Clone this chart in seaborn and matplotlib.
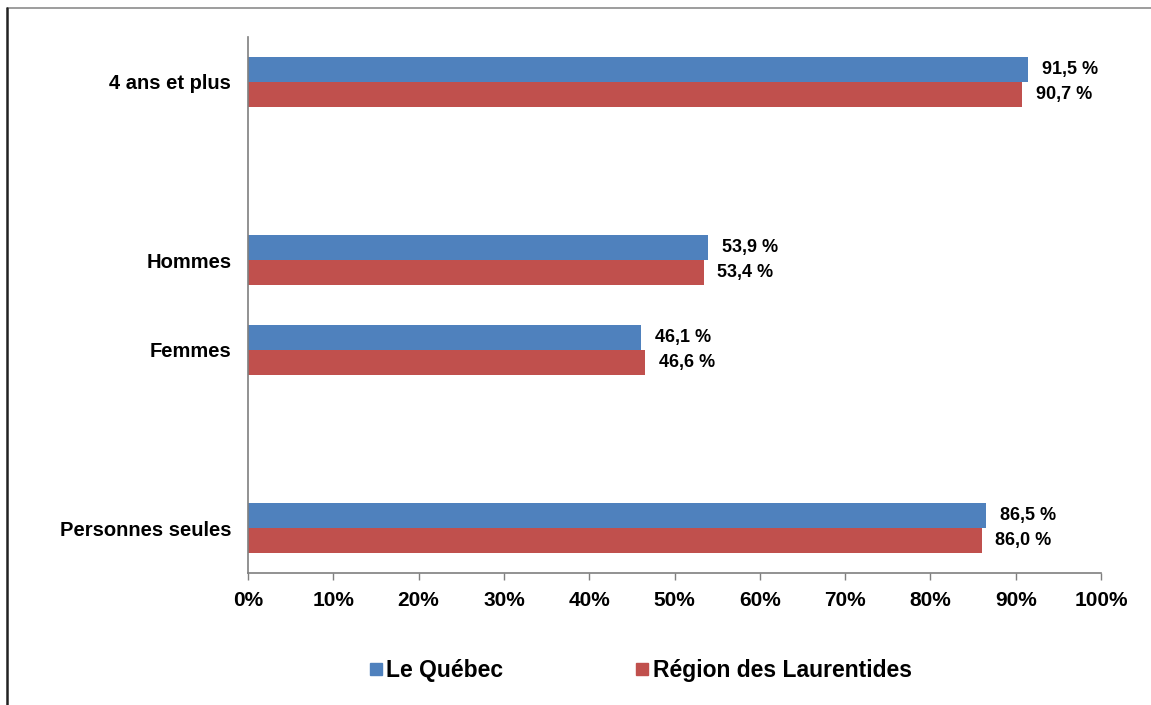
import matplotlib
matplotlib.use("Agg")
import matplotlib.pyplot as plt
from matplotlib.lines import Line2D
import seaborn as sns
import pandas as pd

# Categories (blank slots separate the groups on the axis)
categories = ["4 ans et plus", " ", "Hommes", "Femmes", "  ", "Personnes seules"]
series_names = ["Le Québec", "Région des Laurentides"]
quebec = [91.5, None, 53.9, 46.1, None, 86.5]
laurentides = [90.7, None, 53.4, 46.6, None, 86.0]
x_ticks = [0, 10, 20, 30, 40, 50, 60, 70, 80, 90, 100]

rows = []
for cat, q, l in zip(categories, quebec, laurentides):
    if q is not None:
        rows.append({"cat": cat, "serie": series_names[0], "val": q})
        rows.append({"cat": cat, "serie": series_names[1], "val": l})
df = pd.DataFrame(rows)

sns.set_theme(style="white")
plt.rcParams["font.family"] = ["Liberation Sans", "DejaVu Sans"]
plt.rcParams["font.weight"] = "bold"

colors = ["#4F81BD", "#C0504D"]

fig = plt.figure(figsize=(11.51, 7.05), dpi=100)
ax = fig.add_axes([248 / 1151, 1 - 573 / 705, (1101 - 248) / 1151, (573 - 37) / 705])

sns.barplot(data=df, y="cat", x="val", hue="serie", order=categories,
            hue_order=series_names, palette=colors, orient="h",
            width=0.56, saturation=1, linewidth=0, ax=ax, legend=False)

ax.set_xlim(0, 100)
ax.set_ylim(len(categories) - 0.5, -0.5)
ax.set_xticks(x_ticks)
ax.set_xticklabels([f"{t}%" for t in x_ticks], fontsize=15, fontweight="bold")
ax.set_yticks(range(len(categories)))
ax.set_yticklabels([c.strip() for c in categories], fontsize=14.5, fontweight="bold")
ax.set_xlabel("")
ax.set_ylabel("")
ax.tick_params(axis="x", direction="out", length=5, width=1, color="#7F7F7F",
               bottom=True, pad=8, labelcolor="black")
ax.tick_params(axis="y", length=0, pad=12, labelcolor="black")
for side in ["top", "right"]:
    ax.spines[side].set_visible(False)
for side in ["left", "bottom"]:
    ax.spines[side].set_color("#7F7F7F")
    ax.spines[side].set_linewidth(1.2)

# Value labels in French number format
for container, vals in zip(ax.containers, [quebec, laurentides]):
    labs = [f"{v:.1f} %".replace(".", ",") for v in vals if v is not None]
    ax.bar_label(container, labels=labs, padding=10, fontsize=13,
                 fontweight="bold", color="black")

# Legend
handles = [Line2D([0], [0], marker="s", linestyle="none", markersize=9,
                  markerfacecolor=c, markeredgecolor=c) for c in colors]
fig.legend(handles, series_names, loc="center",
           bbox_to_anchor=(641 / 1151, 1 - 671 / 705), ncol=2, frameon=False,
           prop={"size": 16.5, "weight": "bold"}, labelcolor="black",
           handlelength=0.5, handletextpad=0.2, columnspacing=5.8)

# Outer frame lines
fig.add_artist(Line2D([7 / 1151, 1], [1 - 8 / 705, 1 - 8 / 705],
                      transform=fig.transFigure, color="#8C8C8C", linewidth=1.2))
fig.add_artist(Line2D([7 / 1151, 7 / 1151], [0, 1 - 8 / 705],
                      transform=fig.transFigure, color="#222222", linewidth=1.8))

fig.savefig("out.png", dpi=100, facecolor="white")
